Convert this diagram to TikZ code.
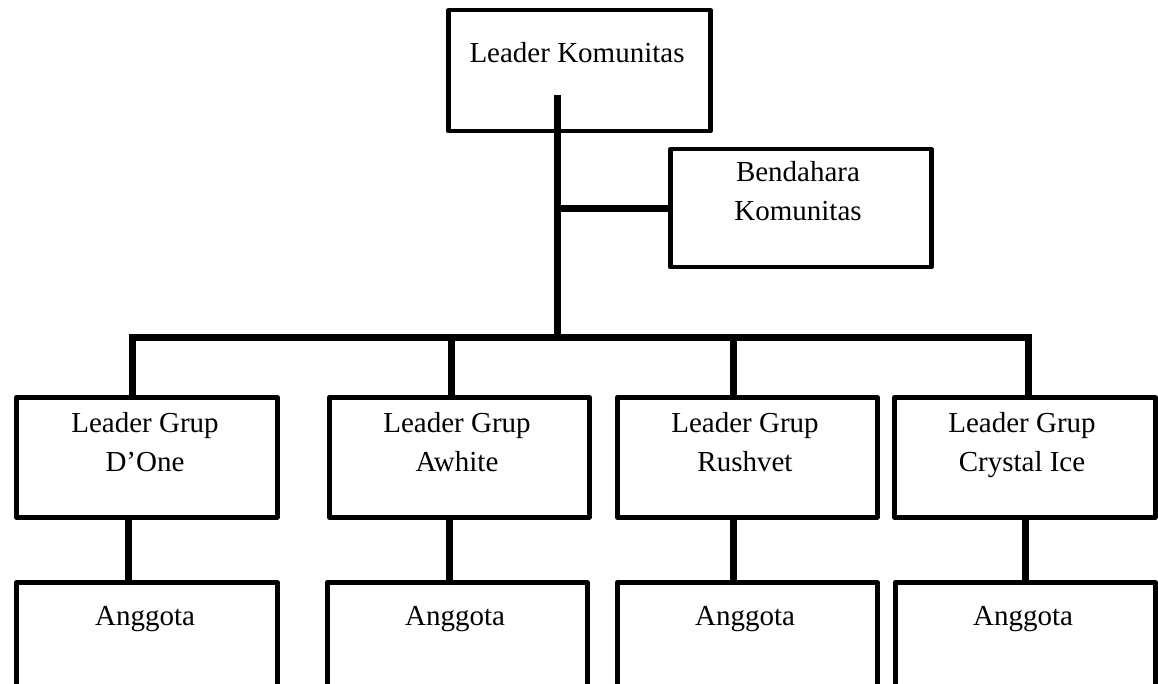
\documentclass[tikz,border=0pt]{standalone}
\usepackage{fontspec}
\setmainfont{Liberation Serif}
\begin{document}
\begin{tikzpicture}[x=1pt,y=-1pt,
  box/.style={draw=black,line width=4.5pt,line join=round,inner sep=0pt,anchor=north west},
  lbl/.style={inner sep=0pt,anchor=base,align=center,font=\fontsize{29}{39}\selectfont},
  conn/.style={draw=black,line width=7pt}]
\useasboundingbox (0,0) rectangle (1158,684);
\clip (0,0) rectangle (1158,684);
\fill[white] (0,0) rectangle (1158,684);
% boxes
\node[box,minimum width=262pt,minimum height=121pt] (top) at (446,8) {};
\node[box,minimum width=261pt,minimum height=118pt] (bend) at (668,147) {};
\node[box,minimum width=261pt,minimum height=120pt] (g1) at (14,395) {};
\node[box,minimum width=260pt,minimum height=120pt] (g2) at (327,395) {};
\node[box,minimum width=260pt,minimum height=120pt] (g3) at (615,395) {};
\node[box,minimum width=261pt,minimum height=120pt] (g4) at (892,395) {};
\node[box,minimum width=261pt,minimum height=130pt] (a1) at (14,580) {};
\node[box,minimum width=260pt,minimum height=130pt] (a2) at (325,580) {};
\node[box,minimum width=260pt,minimum height=130pt] (a3) at (615,580) {};
\node[box,minimum width=260pt,minimum height=130pt] (a4) at (893,580) {};
% texts (anchor base = baseline of last line)
\node[lbl] (ttop) at (577,63) {Leader Komunitas};
\node[lbl] (tbend) at (798,221) {Bendahara\\Komunitas};
\node[lbl] (tg1) at (145,471) {Leader Grup\\D’One};
\node[lbl] (tg2) at (457,471) {Leader Grup\\Awhite};
\node[lbl] (tg3) at (745,471) {Leader Grup\\Rushvet};
\node[lbl] (tg4) at (1022,471) {Leader Grup\\Crystal Ice};
\node[lbl] (ta1) at (145,625) {Anggota};
\node[lbl] (ta2) at (455,625) {Anggota};
\node[lbl] (ta3) at (745,625) {Anggota};
\node[lbl] (ta4) at (1023,625) {Anggota};
% connectors
\coordinate (trunktop) at (557,95);
\coordinate (mid) at (557,337);
\coordinate (m1) at (132,337);
\coordinate (m2) at (451,337);
\coordinate (m3) at (733,337);
\coordinate (m4) at (1028,337);
\coordinate (l1) at (128,0);
\coordinate (l2) at (449,0);
\coordinate (l3) at (733,0);
\coordinate (l4) at (1025,0);
\draw[conn] (trunktop) -- (mid);
\draw[conn] (trunktop |- bend.west) -- (bend.west);
\draw[conn] ([xshift=-3.5pt]m1) -- ([xshift=3.5pt]m4);
\draw[conn] (m1) -- (m1 |- g1.north);
\draw[conn] (m2) -- ([yshift=-3pt]m2 |- g2.north);
\draw[conn] (m3) -- (m3 |- g3.north);
\draw[conn] (m4) -- (m4 |- g4.north);
\draw[conn] (g1.south -| l1) -- (a1.north -| l1);
\draw[conn] (g2.south -| l2) -- (a2.north -| l2);
\draw[conn] (g3.south -| l3) -- (a3.north -| l3);
\draw[conn] (g4.south -| l4) -- (a4.north -| l4);
\end{tikzpicture}
\end{document}
